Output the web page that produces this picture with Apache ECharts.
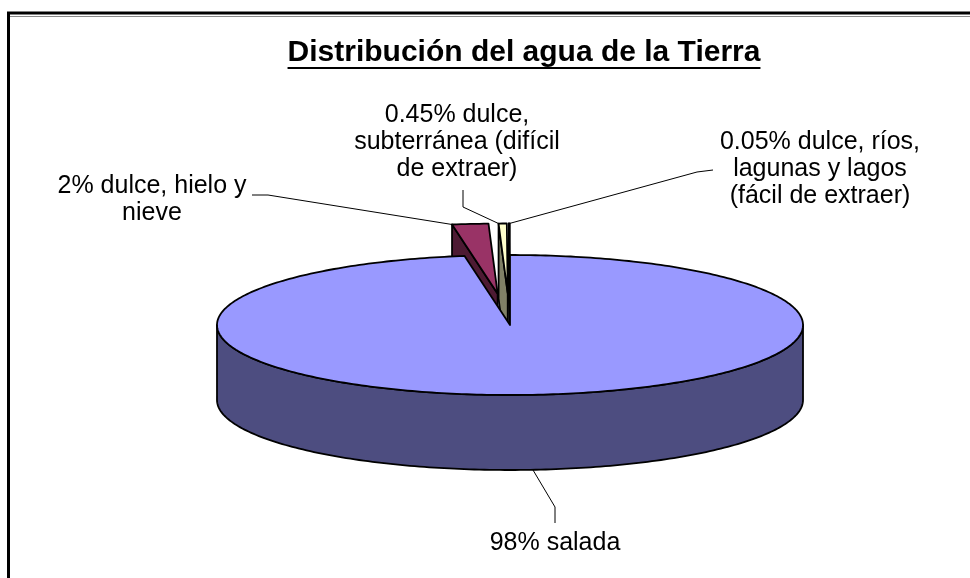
<!DOCTYPE html>
<html>
<head>
<meta charset="utf-8">
<script src="https://cdn.jsdelivr.net/npm/echarts@6/dist/echarts.min.js"></script>
<style>
  html, body { margin: 0; padding: 0; background: #fff; }
  #chart { width: 970px; height: 578px; }
</style>
</head>
<body>
<div id="chart"></div>
<script>
// chart data
var titleText = 'Distribución del agua de la Tierra';
var categories = [
  '98% salada',
  '2% dulce, hielo y\nnieve',
  '0.45% dulce,\nsubterránea (difícil\nde extraer)',
  '0.05% dulce, ríos,\nlagunas y lagos\n(fácil de extraer)'
];
var values = [98, 2, 0.45, 0.05];

// colours (Excel 97 palette), top face and darker side face
var topColors = ['#9999FF', '#993366', '#FFFFCC', '#CCFFFF'];
var sideColors = ['#4D4D80', '#4D1A33', '#808066', '#668080'];

// fake 3d pie layout
var pie = { cx: 510, cy: 325, rx: 293, ry: 70, depth: 75 };
var explode = [0, 0.45, 0.45, 0.45];
var sliceZ = [10, 1, 2, 3]; // back slices first, salada on top

// label boxes + leader lines, Excel puts these by hand
var labelPos = [[555, 543], [152, 200], [457, 142], [820, 169]];
var leaderStart = [
  [[555, 523], [555, 507]],
  [[252, 195], [268, 195]],
  [[463, 190], [463, 207]],
  [[713, 170], [697, 172]]
];
var anchorAt = [0.5, 0, 0, 0.5];        // 0 = ccw edge of the slice, 1 = cw edge
var anchorBottom = [true, false, false, false];

var FONT = '"Liberation Sans", Arial, sans-serif';

var total = values.reduce(function (s, v) { return s + v; }, 0);
var startFrac = [];
var acc = 0;
values.forEach(function (v) { startFrac.push(acc); acc += v / total; });

function rad(d) { return d * Math.PI / 180; }

function rimPt(th, off, h) {
  return [
    pie.cx + off[0] + pie.rx * Math.cos(rad(th)),
    pie.cy + off[1] - pie.ry * Math.sin(rad(th)) + h
  ];
}

function arc(a, b, off, h) {
  var pts = [];
  var n = Math.max(2, Math.ceil(Math.abs(b - a)));
  for (var k = 0; k <= n; k++) {
    pts.push(rimPt(a + (b - a) * k / n, off, h));
  }
  return pts;
}

function renderItem(params, api) {
  var i = params.dataIndex;
  var f0 = startFrac[i];
  var f = api.value(0) / total;
  // excel starts at 12 o'clock and goes clockwise
  var b = 90 - 360 * f0;
  var a = 90 - 360 * (f0 + f);
  var m = (a + b) / 2;
  var e = explode[i];
  var off = [e * pie.rx * Math.cos(rad(m)), -e * pie.ry * Math.sin(rad(m))];
  var c = [pie.cx + off[0], pie.cy + off[1]];
  var z = sliceZ[i];
  var line = { stroke: '#000', lineWidth: 1.8, lineJoin: 'round' };
  var children = [];

  // outer wall, only the front half can be seen
  for (var k = -2; k <= 2; k++) {
    var lo = Math.max(a, 180 + 360 * k);
    var hi = Math.min(b, 360 + 360 * k);
    if (hi > lo) {
      children.push({
        type: 'polygon', z2: z,
        shape: { points: arc(lo, hi, off, 0).concat(arc(hi, lo, off, pie.depth)) },
        style: Object.assign({ fill: sideColors[i] }, line)
      });
    }
  }

  // cut faces that turn towards the viewer
  var faces = [];
  if (Math.cos(rad(b)) < -1e-6) faces.push(b);
  if (Math.cos(rad(a)) > 1e-6) faces.push(a);
  faces.forEach(function (t) {
    var r0 = rimPt(t, off, 0);
    var r1 = rimPt(t, off, pie.depth);
    children.push({
      type: 'polygon', z2: z,
      shape: { points: [c, r0, r1, [c[0], c[1] + pie.depth]] },
      style: Object.assign({ fill: sideColors[i] }, line)
    });
  });

  // top face
  children.push({
    type: 'polygon', z2: z + 0.5,
    shape: { points: [c].concat(arc(a, b, off, 0)) },
    style: Object.assign({ fill: topColors[i] }, line)
  });

  // leader line
  var ta = b - (b - a) * anchorAt[i];
  var anchor = rimPt(ta, off, anchorBottom[i] ? pie.depth : 0);
  children.push({
    type: 'polyline', z2: 30,
    shape: { points: leaderStart[i].concat([anchor]) },
    style: { stroke: '#000', lineWidth: 1, fill: null }
  });

  // label
  children.push({
    type: 'text', z2: 40,
    x: labelPos[i][0], y: labelPos[i][1],
    style: {
      text: categories[i],
      fill: '#000',
      font: '25px ' + FONT,
      align: 'center',
      verticalAlign: 'middle',
      lineHeight: 27
    }
  });

  return { type: 'group', children: children };
}

var seriesData = values.map(function (v, i) {
  return { name: categories[i], value: v };
});

// measure the title for its underline
var ctx = document.createElement('canvas').getContext('2d');
ctx.font = 'bold 30px ' + FONT;
var titleW = ctx.measureText(titleText).width;
var titleX = 524;
var titleY = 53;

var chart = echarts.init(document.getElementById('chart'), null, { renderer: 'canvas' });
chart.setOption({
  animation: false,
  backgroundColor: '#fff',
  graphic: [
    { type: 'line', shape: { x1: 7, y1: 13, x2: 970, y2: 13 }, style: { stroke: '#000', lineWidth: 3 } },
    { type: 'line', shape: { x1: 10, y1: 16.5, x2: 970, y2: 16.5 }, style: { stroke: '#888', lineWidth: 1 } },
    { type: 'line', shape: { x1: 8.5, y1: 12, x2: 8.5, y2: 578 }, style: { stroke: '#000', lineWidth: 3 } },
    {
      type: 'text', x: titleX, y: titleY,
      style: { text: titleText, font: 'bold 30px ' + FONT, fill: '#000', align: 'center', verticalAlign: 'middle' }
    },
    {
      type: 'line',
      shape: { x1: titleX - titleW / 2, y1: titleY + 15, x2: titleX + titleW / 2, y2: titleY + 15 },
      style: { stroke: '#000', lineWidth: 2 }
    }
  ],
  series: [{
    type: 'custom',
    coordinateSystem: 'none',
    renderItem: renderItem,
    data: seriesData,
    silent: true
  }]
});
</script>
</body>
</html>
